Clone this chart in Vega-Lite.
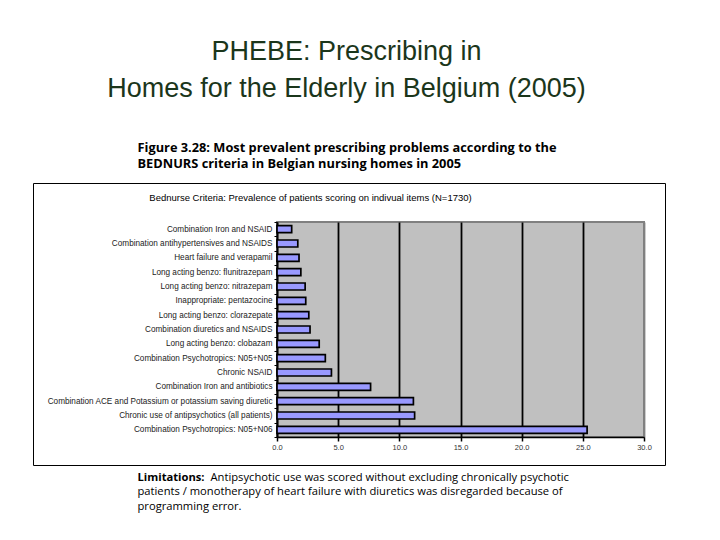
{
  "$schema": "https://vega.github.io/schema/vega-lite/v6.json",
  "width": 367,
  "height": 215,
  "autosize": {"type": "none"},
  "padding": {"left": 277, "top": 222, "right": 76, "bottom": 103},
  "background": "white",
  "config": {
    "view": {"fill": "#c0c0c0", "stroke": "#808080", "strokeWidth": 2},
    "axis": {"labelFont": "Liberation Sans", "titleFont": "Liberation Sans", "titleColor": "black", "titleFontWeight": "normal"}
  },
  "title": {
    "text": ["PHEBE: Prescribing in", "Homes for the Elderly in Belgium (2005)"],
    "font": "Liberation Sans",
    "fontSize": 27,
    "fontWeight": "normal",
    "color": "#1b361b",
    "anchor": "middle",
    "frame": "group",
    "dx": -114,
    "lineHeight": 37,
    "offset": 38
  },
  "data": {
    "values": [
      {"item": "Combination Iron and NSAID", "value": 1.2},
      {"item": "Combination antihypertensives and NSAIDS", "value": 1.7},
      {"item": "Heart failure and verapamil", "value": 1.8},
      {"item": "Long acting benzo: flunitrazepam", "value": 1.95},
      {"item": "Long acting benzo: nitrazepam", "value": 2.3},
      {"item": "Inappropriate: pentazocine", "value": 2.35},
      {"item": "Long acting benzo: clorazepate", "value": 2.6},
      {"item": "Combination diuretics and NSAIDS", "value": 2.7},
      {"item": "Long acting benzo: clobazam", "value": 3.45},
      {"item": "Combination Psychotropics: N05+N05", "value": 3.95},
      {"item": "Chronic NSAID", "value": 4.45},
      {"item": "Combination Iron and antibiotics", "value": 7.65},
      {"item": "Combination ACE and Potassium or potassium saving diuretic", "value": 11.15},
      {"item": "Chronic use of antipsychotics (all patients)", "value": 11.25},
      {"item": "Combination Psychotropics: N05+N06", "value": 25.35}
    ]
  },
  "layer": [
    {
      "mark": {"type": "bar", "fill": "#9999ff", "stroke": "black", "strokeWidth": 1.7, "size": 7},
      "encoding": {
        "y": {
          "field": "item", "type": "nominal", "sort": null,
          "scale": {"paddingInner": 0, "paddingOuter": 0},
          "axis": {
            "orient": "left",
            "domainColor": "black", "domainWidth": 1.5,
            "tickColor": "black", "tickSize": 3, "tickWidth": 1, "tickBand": "extent",
            "labelFontSize": 8.2, "labelColor": "#222", "labelPadding": 2, "labelLimit": 400,
            "grid": false,
            "title": "Antipsychotic use was scored without excluding chronically psychotic",
            "titleFont": "Open Sans", "titleFontSize": 11.2, "titleAngle": 0, "titleAlign": "left", "titleBaseline": "alphabetic",
            "titleX": -67, "titleY": 258
          }
        },
        "x": {
          "field": "value", "type": "quantitative",
          "scale": {"domain": [0, 30]},
          "axis": {
            "orient": "bottom",
            "values": [0, 5, 10, 15, 20, 25, 30],
            "format": ".1f",
            "grid": true,
            "gridColor": {"condition": {"test": "datum.value === 30", "value": "#808080"}, "value": "black"},
            "gridWidth": 1.8,
            "domainColor": "black", "domainWidth": 1.5,
            "tickColor": "black", "tickSize": 4, "tickWidth": 1.5,
            "labelFontSize": 7.5, "labelColor": "#333", "labelPadding": 2, "labelFlush": false,
            "title": null
          }
        }
      }
    },
    {
      "mark": {"type": "point", "opacity": 0},
      "encoding": {
        "x": {
          "datum": 0, "type": "quantitative",
          "scale": {"domain": [0, 1], "range": [-244, 388], "nice": false, "zero": false},
          "axis": {
            "orient": "top", "offset": 39,
            "domainColor": "black", "domainWidth": 1,
            "ticks": false, "labels": false, "grid": false,
            "title": "Bednurse Criteria: Prevalence of patients scoring on indivual items (N=1730)",
            "titleFontSize": 9.5, "titleAlign": "center", "titleBaseline": "alphabetic",
            "titleX": 33, "titleY": 17
          }
        },
        "y": {
          "datum": 0, "type": "quantitative",
          "scale": {"domain": [0, 1], "range": [243, -39], "nice": false, "zero": false},
          "axis": {
            "orient": "left", "offset": 244,
            "domainColor": "black", "domainWidth": 1,
            "ticks": false, "labels": false, "grid": false,
            "title": ["Figure 3.28: Most prevalent prescribing problems according to the", "BEDNURS criteria in Belgian nursing homes in 2005"],
            "titleFont": "Open Sans", "titleFontSize": 12.8, "titleFontWeight": "bold", "titleLineHeight": 16.5,
            "titleAngle": 0, "titleAlign": "left", "titleBaseline": "alphabetic",
            "titleX": 104, "titleY": -71
          }
        }
      }
    },
    {
      "mark": {"type": "point", "opacity": 0},
      "encoding": {
        "x": {
          "datum": 0, "type": "quantitative",
          "scale": {"domain": [0, 1], "range": [-244, 388], "nice": false, "zero": false},
          "axis": {
            "orient": "bottom", "offset": 28,
            "domainColor": "black", "domainWidth": 1,
            "ticks": false, "labels": false, "grid": false,
            "title": ["patients / monotherapy of heart failure with diuretics was disregarded because of", "programming error."],
            "titleFont": "Open Sans", "titleFontSize": 11.2, "titleLineHeight": 14.5,
            "titleAngle": 0, "titleAlign": "left", "titleBaseline": "alphabetic",
            "titleX": -140, "titleY": 29.5
          }
        },
        "y": {
          "datum": 0, "type": "quantitative",
          "scale": {"domain": [0, 1], "range": [243, -39], "nice": false, "zero": false},
          "axis": {
            "orient": "right", "offset": 21,
            "domainColor": "black", "domainWidth": 1,
            "ticks": false, "labels": false, "grid": false,
            "title": "Limitations:",
            "titleFont": "Open Sans", "titleFontSize": 11.2, "titleFontWeight": "bold",
            "titleAngle": 0, "titleAlign": "left", "titleBaseline": "alphabetic",
            "titleX": -528, "titleY": 258
          }
        }
      }
    }
  ],
  "resolve": {
    "scale": {"x": "independent", "y": "independent"},
    "axis": {"x": "independent", "y": "independent"}
  }
}
